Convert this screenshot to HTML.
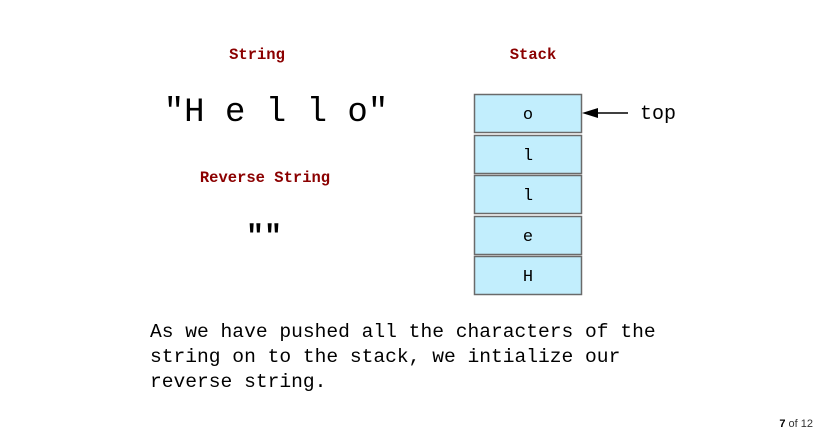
<!DOCTYPE html>
<html><head><meta charset="utf-8"><style>
html,body{margin:0;padding:0;background:#fff;}
body{width:816px;height:431px;overflow:hidden;position:relative;}
svg{position:absolute;left:0;top:0;}
</style></head><body>
<svg width="816" height="431" xmlns="http://www.w3.org/2000/svg">
<g font-family="Liberation Mono, monospace">
<text x="257" y="59" text-anchor="middle" font-size="15.5" font-weight="bold" fill="#8b0000">String</text>
<text x="533" y="59" text-anchor="middle" font-size="15.5" font-weight="bold" fill="#8b0000">Stack</text>
<text x="265" y="182" text-anchor="middle" font-size="15.5" font-weight="bold" fill="#8b0000">Reverse String</text>
<text x="276" y="121" text-anchor="middle" font-size="34" fill="#000">"H e l l o"</text>
<text x="264" y="245" text-anchor="middle" font-size="30" font-weight="bold" fill="#000">""</text>
<g fill="#c2eefd" stroke="#6a6a6a" stroke-width="1.5">
<rect x="474.5" y="94.5" width="107" height="38"/>
<rect x="474.5" y="135.5" width="107" height="38"/>
<rect x="474.5" y="175.5" width="107" height="38"/>
<rect x="474.5" y="216.5" width="107" height="38"/>
<rect x="474.5" y="256.5" width="107" height="38"/>
</g>
<g font-size="17" text-anchor="middle" fill="#000">
<text x="528" y="119">o</text>
<text x="528" y="160">l</text>
<text x="528" y="200">l</text>
<text x="528" y="241">e</text>
<text x="528" y="281">H</text>
</g>
<line x1="595" y1="113" x2="628" y2="113" stroke="#000" stroke-width="1.5"/>
<polygon points="582,113 598,108 598,118" fill="#000"/>
<text x="640" y="119" font-size="20" fill="#000">top</text>
<g font-size="19.6" fill="#000">
<text x="150" y="337">As we have pushed all the characters of the</text>
<text x="150" y="362">string on to the stack, we intialize our</text>
<text x="150" y="387">reverse string.</text>
</g>
</g>
<text x="813" y="427" text-anchor="end" font-family="Liberation Sans, sans-serif" font-size="11" fill="#333"><tspan font-weight="bold" fill="#000">7</tspan> of 12</text>
</svg>
</body></html>
